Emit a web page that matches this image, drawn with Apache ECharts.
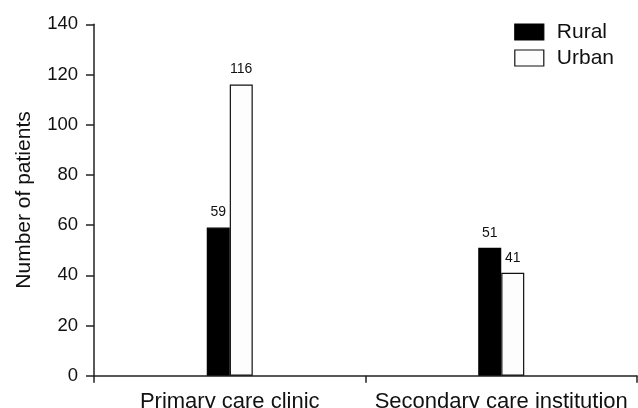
<!DOCTYPE html>
<html>
<head>
<meta charset="utf-8">
<script src="https://cdn.jsdelivr.net/npm/echarts@6/dist/echarts.min.js"></script>
<style>
html,body{margin:0;padding:0;background:#fff;}
#c{width:638px;height:408px;}
</style>
</head>
<body>
<div id="c"></div>
<script>
const categories = ["Primary care clinic", "Secondary care institution"];
const rural = [59, 51];
const urban = [116, 41];
const yTicks = [0, 20, 40, 60, 80, 100, 120, 140];

const FONT = "'Liberation Sans', Arial, sans-serif";
const chart = echarts.init(document.getElementById('c'), null, {renderer: 'canvas'});
chart.setOption({
  animation: false,
  backgroundColor: '#ffffff',
  textStyle: {fontFamily: FONT, color: '#111'},
  grid: {left: 94, right: 1, top: 24.3, bottom: 32.3, containLabel: false, outerBoundsMode: 'none'},
  legend: {
    right: 19, top: 16.5,
    orient: 'vertical',
    icon: 'rect',
    itemWidth: 29, itemHeight: 16, itemGap: 5,
    textStyle: {fontSize: 21, fontFamily: FONT, color: '#111', padding: [0, 0, 0, 8]},
    data: [
      {name: 'Rural', itemStyle: {color: '#000', borderColor: '#000', borderWidth: 1.2}},
      {name: 'Urban', itemStyle: {color: '#fdfdfd', borderColor: '#111', borderWidth: 1.2}}
    ]
  },
  xAxis: {
    type: 'category',
    data: categories,
    axisLine: {lineStyle: {color: '#222', width: 1.5}},
    axisTick: {show: true, length: 7, lineStyle: {color: '#222', width: 1.5}},
    axisLabel: {interval: 0, fontSize: 22, color: '#111', margin: 15, fontFamily: FONT}
  },
  yAxis: {
    type: 'value',
    min: yTicks[0], max: yTicks[yTicks.length - 1], interval: 20,
    name: 'Number of patients',
    nameLocation: 'middle',
    nameGap: 59,
    nameTextStyle: {fontSize: 21, color: '#111', fontFamily: FONT},
    splitLine: {show: false},
    axisLine: {show: true, lineStyle: {color: '#222', width: 1.5}},
    axisTick: {show: true, length: 8, lineStyle: {color: '#222', width: 1.5}},
    axisLabel: {fontSize: 18.5, color: '#111', margin: 16, fontFamily: FONT}
  },
  series: [
    {
      name: 'Rural', type: 'bar', data: rural,
      barWidth: 23, barGap: '0%',
      itemStyle: {color: '#000', borderColor: '#000', borderWidth: 1.2},
      label: {show: true, position: 'top', distance: 8, fontSize: 14, color: '#111', fontFamily: FONT}
    },
    {
      name: 'Urban', type: 'bar', data: urban,
      barWidth: 23, barGap: '0%',
      itemStyle: {color: '#fdfdfd', borderColor: '#111', borderWidth: 1.2},
      label: {show: true, position: 'top', distance: 8, fontSize: 14, color: '#111', fontFamily: FONT}
    }
  ]
});
</script>
</body>
</html>
